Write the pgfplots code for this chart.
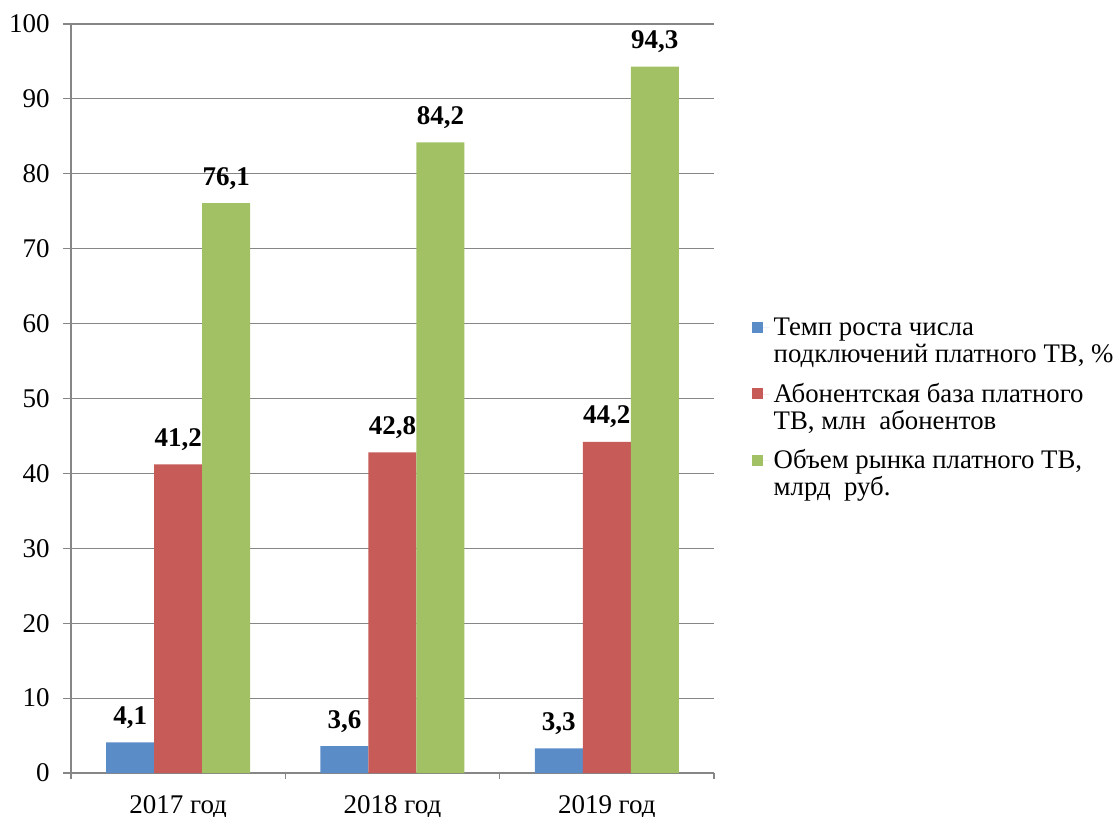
\documentclass[border=0pt]{standalone}
\usepackage{pgfplots}
\pgfplotsset{compat=1.18}
\usepackage{fontspec}
\setmainfont{Liberation Serif}
\definecolor{cblue}{HTML}{5A8CC8}
\definecolor{cred}{HTML}{C65B57}
\definecolor{cgreen}{HTML}{A2C164}
\definecolor{cgrid}{RGB}{134,134,134}
\begin{document}
\begin{tikzpicture}
\fontsize{13.5}{14}\selectfont
\begin{axis}[
  name=ax,
  scale only axis,
  width=321.5pt, height=374.5pt,
  ymin=0, ymax=100,
  xmin=-0.5, xmax=2.5,
  ytick={0,10,...,100},
  xtick={0,1,2},
  xticklabels={2017 год,2018 год,2019 год},
  axis x line*=bottom,
  axis y line*=left,
  axis line style={draw=cgrid, line width=0.6pt},
  ymajorgrids,
  grid style={draw=cgrid, line width=0.6pt},
  tick align=outside,
  major tick length=4pt,
  ytick style={draw=cgrid, line width=0.6pt},
  xtick style={draw=none},
  extra x ticks={-0.5,0.5,1.5,2.5},
  extra x tick labels={},
  extra x tick style={major tick length=3pt, xtick style={draw=cgrid, line width=0.6pt}, grid=none},
  /pgf/number format/assume math mode=true,
  yticklabel style={font=\fontsize{13.5}{14}\selectfont, inner sep=0pt, anchor=east, xshift=-6.5pt},
  xticklabel style={font=\fontsize{13.5}{14}\selectfont, inner sep=0pt, anchor=base, text depth=0pt, yshift=-16pt},
  ybar=0pt,
  bar width=24pt,
  nodes near coords={\pgfmathprintnumber[fixed,fixed zerofill,precision=1,use comma]{\pgfplotspointmeta}},
  every node near coord/.append style={font=\fontsize{13.5}{14}\selectfont\bfseries, anchor=base, inner sep=0pt, yshift=9pt, text=black},
  legend style={draw=none, fill=none, at={(1.058,0.495)}, anchor=west, inner sep=0pt, row sep=10pt,
    font=\fontsize{13.4}{13.5}\selectfont,
    /tikz/every even column/.append style={column sep=0pt}},
  legend cell align=left,
  legend image code/.code={\fill[#1] (0pt,1.5pt) rectangle (5.5pt,7pt); \path (0pt,4pt) -- (9pt,4pt);},
  clip=false,
]
\addplot[fill=cblue, draw=none] coordinates {(0,4.1) (1,3.6) (2,3.3)};
\addlegendentry{\begin{tabular}{@{}l@{}}Темп роста числа\\подключений платного ТВ, \%\end{tabular}}
\addplot[fill=cred, draw=none] coordinates {(0,41.2) (1,42.8) (2,44.2)};
\addlegendentry{\begin{tabular}{@{}l@{}}Абонентская база платного\\ТВ, млн\ \ абонентов\end{tabular}}
\addplot[fill=cgreen, draw=none] coordinates {(0,76.1) (1,84.2) (2,94.3)};
\addlegendentry{\begin{tabular}{@{}l@{}}Объем рынка платного ТВ,\\млрд\ \ руб.\end{tabular}}
\end{axis}
\pgfresetboundingbox
\path[use as bounding box] ([shift={(-35.5pt,-21.5pt)}]ax.south west) rectangle ([shift={(524.5pt,386.5pt)}]ax.south west);
\end{tikzpicture}
\end{document}
